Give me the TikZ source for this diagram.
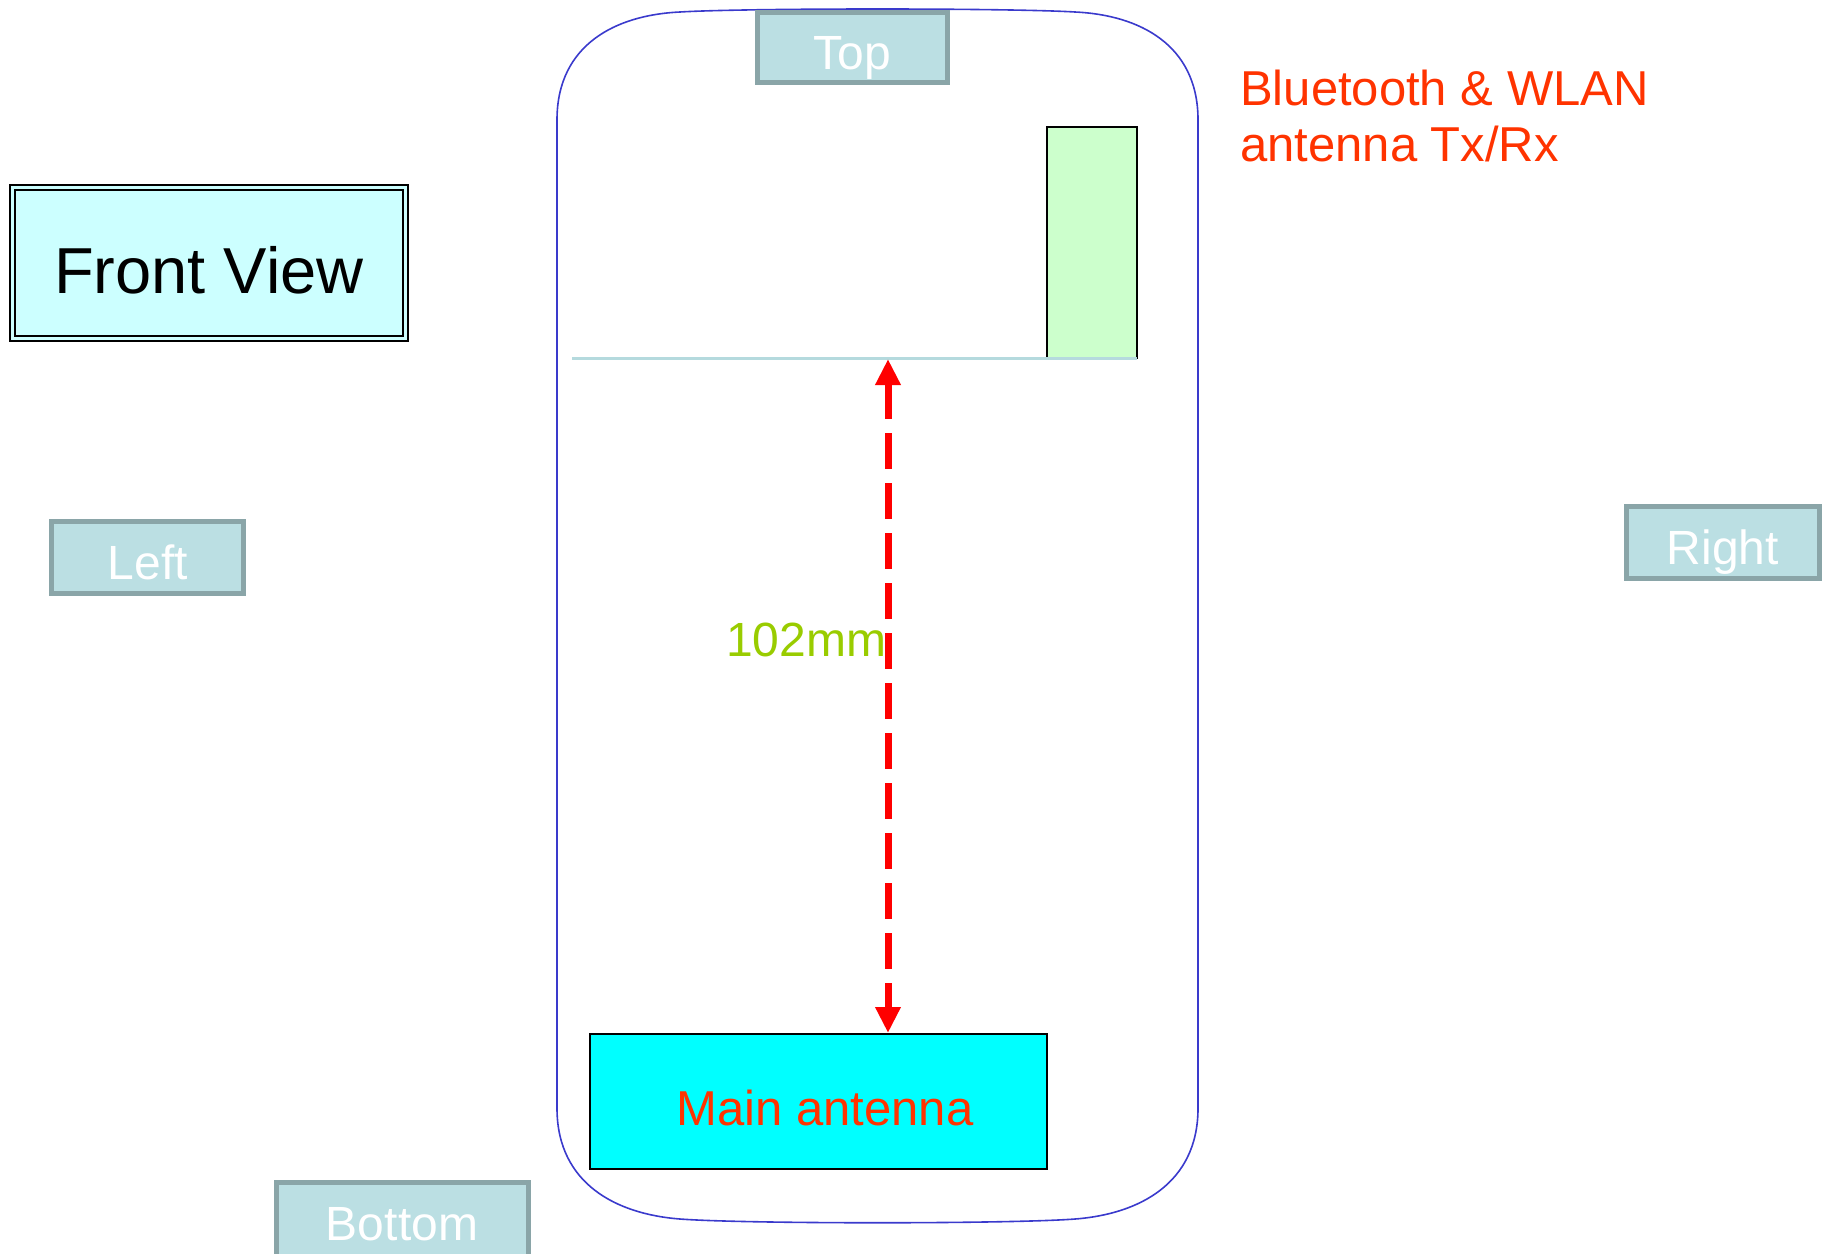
\documentclass[tikz,border=0pt]{standalone}
\usepackage{fontspec}
\setmainfont{Liberation Sans}
\usetikzlibrary{arrows.meta}
\definecolor{phoneline}{HTML}{3A3ACC}
\definecolor{lblfill}{HTML}{BBDFE3}
\definecolor{lbldraw}{HTML}{8AA5A8}
\definecolor{fvfill}{HTML}{CCFFFF}
\definecolor{antgreen}{HTML}{CCFFCC}
\definecolor{antcyan}{HTML}{00FFFF}
\definecolor{txtred}{HTML}{FF3300}
\definecolor{mmgreen}{HTML}{99CC00}
\definecolor{sepline}{HTML}{B5DADE}
\definecolor{arrred}{HTML}{FF0000}
\begin{document}
\begin{tikzpicture}[x=1pt,y=-1pt,
  lblbox/.style={draw=lbldraw, fill=lblfill, line width=5pt},
  lbltext/.style={text=white, font=\fontsize{48}{56}\selectfont, inner sep=0pt, anchor=base},
  redtext/.style={text=txtred, font=\fontsize{49}{58}\selectfont, inner sep=0pt},
  antbox/.style={draw=black, line width=2pt}]
\useasboundingbox (0,0) rectangle (1822,1253);
% phone outline
\draw[phoneline, line width=1.6pt]
  (557,1110) -- (557,118)
  .. controls (558,45) and (615,15) .. (680,12)
  .. controls (745,8) and (1010,8) .. (1075,12)
  .. controls (1140,15) and (1197,45) .. (1198,118)
  -- (1198,1110)
  .. controls (1197,1183) and (1140,1214) .. (1075,1219)
  .. controls (1010,1224) and (745,1224) .. (680,1219)
  .. controls (615,1214) and (558,1183) .. (557,1110) -- cycle;
% top label
\draw[lblbox] (757.5,12.5) rectangle (947.5,82.5);
\node[lbltext] (top) at (852,69) {Top};
% left, right, bottom labels
\draw[lblbox] (51.5,521.5) rectangle (243.5,593.5);
\node[lbltext] (left) at (148,579) {Left};
\draw[lblbox] (1626.5,506.5) rectangle (1819.5,578.5);
\node[lbltext] (right) at (1723,564) {Right};
\draw[lblbox] (276.5,1182.5) rectangle (528.5,1275);
\node[lbltext] (bottom) at (402,1240) {Bottom};
% front view box
\draw[draw=black, line width=1.8pt, double=fvfill, double distance=3.5pt, fill=fvfill] (12.5,187.5) rectangle (405.5,338.5);
\node[inner sep=0pt, anchor=base, font=\fontsize{65}{70}\selectfont] (fv) at (209,293) {Front View};
% BT/WLAN antenna
\draw[antbox, fill=antgreen] (1047,127) rectangle (1137,358);
\draw[sepline, line width=3pt] (572,358) -- (1137,358);
\node[redtext, anchor=base west] (bt) at (1240,105) {Bluetooth \& WLAN};
\node[redtext, anchor=base west] (bt2) at (1240,161) {antenna Tx/Rx};
% main antenna
\node[antbox, fill=antcyan, minimum width=457pt, minimum height=135pt, inner sep=0pt] (main) at (818.5,1101.5) {};
\node[redtext, anchor=base] (mainlbl) at (825,1125) {Main antenna};
% dimension arrow
\coordinate (atop) at (888,359);
\coordinate (abot) at (888,1033);
\draw[arrred, line width=7pt, dash pattern=on 36pt off 14pt, {Triangle[length=26pt,width=24pt]}-{Triangle[length=26pt,width=24pt]}] (atop) -- (abot);
\node[text=mmgreen, font=\fontsize{48}{56}\selectfont, inner sep=0pt, anchor=base west] (dim) at (726,656) {102mm};
\end{tikzpicture}
\end{document}
